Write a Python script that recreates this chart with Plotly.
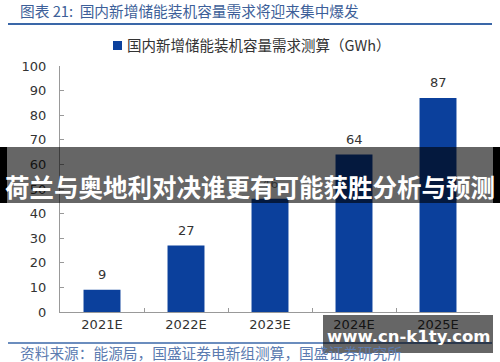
import plotly.graph_objects as go

categories = ["2021E", "2022E", "2023E", "2024E", "2025E"]
values = [9, 27, 46, 64, 87]
y_ticks = [0, 10, 20, 30, 40, 50, 60, 70, 80, 90, 100]

title_text = "图表 21:  国内新增储能装机容量需求将迎来集中爆发"
series_name = "国内新增储能装机容量需求测算（GWh）"
source_text = "资料来源：能源局，国盛证券电新组测算，国盛证券研究所"
banner_text = "荷兰与奥地利对决谁更有可能获胜分析与预测"
watermark_text = "www.cn-k1ty.com"

W, H = 500, 362
L, R, T, B = 60, 20, 66, 50
PW, PH = W - L - R, H - T - B

def px(x):
    return (x - L) / PW

def py(y):
    return (H - B - y) / PH

CJK = "Noto Sans CJK SC"
BLUE = "#0b409c"

fig = go.Figure()
fig.add_trace(go.Bar(
    x=categories, y=values, name=series_name,
    marker=dict(color=BLUE, line=dict(width=0)),
    width=0.44,
))

fig.update_layout(
    width=W, height=H,
    margin=dict(l=L, r=R, t=T, b=B, autoexpand=False),
    paper_bgcolor="white", plot_bgcolor="white",
    showlegend=False,
    xaxis=dict(showline=True, linecolor="#999999", linewidth=1, automargin=False,
               ticks="inside", tickson="boundaries", ticklen=4, tickcolor="#999999",
               tickfont=dict(family="DejaVu Sans", size=13, color="#333333"),
               showgrid=False, zeroline=False),
    yaxis=dict(range=[0, 100], tickvals=y_ticks, showline=True, linecolor="#999999",
               linewidth=1, ticks="inside", ticklen=4, tickcolor="#999999", automargin=False,
               tickfont=dict(family="DejaVu Sans", size=13, color="#333333"),
               showgrid=False, zeroline=False, ticklabelstandoff=10),
)

shapes = [
    # top rule
    dict(type="line", xref="paper", yref="paper", x0=px(8), x1=px(492), y0=py(24), y1=py(24),
         line=dict(color="#3a67a8", width=2)),
    # bottom rule
    dict(type="line", xref="paper", yref="paper", x0=px(8), x1=px(492), y0=py(343), y1=py(343),
         line=dict(color="#3a67a8", width=1.5)),
    # legend swatch
    dict(type="rect", xref="paper", yref="paper", x0=px(113), x1=px(122), y0=py(50), y1=py(41),
         fillcolor=BLUE, line=dict(width=0)),
    # banner
    dict(type="rect", xref="paper", yref="paper", x0=px(0), x1=px(500), y0=py(203), y1=py(147),
         fillcolor="rgba(0,0,0,0.6)", line=dict(width=0), layer="above"),
    dict(type="rect", xref="paper", yref="paper", x0=px(0), x1=px(7), y0=py(203), y1=py(147),
         fillcolor="black", line=dict(width=0), layer="above"),
    dict(type="rect", xref="paper", yref="paper", x0=px(493), x1=px(500), y0=py(203), y1=py(147),
         fillcolor="black", line=dict(width=0), layer="above"),
    # watermark box
    dict(type="rect", xref="paper", yref="paper", x0=px(323), x1=px(493), y0=py(353), y1=py(315),
         fillcolor="rgba(0,0,0,0.6)", line=dict(width=0), layer="above"),
]
fig.update_layout(shapes=shapes)

annotations = [
    dict(text=str(v), x=c, y=v, xref="x", yref="y", yanchor="middle", yshift=15,
         showarrow=False, font=dict(family="DejaVu Sans", size=13, color="#333333"))
    for c, v in zip(categories, values)
]
annotations += [
    dict(text=title_text, xref="paper", yref="paper", x=px(18), y=py(11), xanchor="left",
         yanchor="middle", showarrow=False, font=dict(family=CJK, size=14.7, color="#3d5f99")),
    dict(text=series_name, xref="paper", yref="paper", x=px(125), y=py(45), xanchor="left",
         yanchor="middle", showarrow=False, font=dict(family=CJK, size=14.5, color="#333333")),
    dict(text=source_text, xref="paper", yref="paper", x=px(18), y=py(352), xanchor="left",
         yanchor="middle", showarrow=False, font=dict(family=CJK, size=14.7, color="#5b7bb0")),
    dict(text="<b>" + banner_text + "</b>", xref="paper", yref="paper", x=px(250), y=py(186),
         xanchor="center", yanchor="middle", showarrow=False,
         font=dict(family=CJK, size=24.5, color="white")),
    dict(text="<b>" + watermark_text + "</b>", xref="paper", yref="paper", x=px(408), y=py(336),
         xanchor="center", yanchor="middle", showarrow=False,
         font=dict(family="DejaVu Sans", size=16.5, color="white")),
]
fig.update_layout(annotations=annotations)

fig.write_html("out.html", config={"displayModeBar": False},
               post_script="document.body.style.margin='0';")
